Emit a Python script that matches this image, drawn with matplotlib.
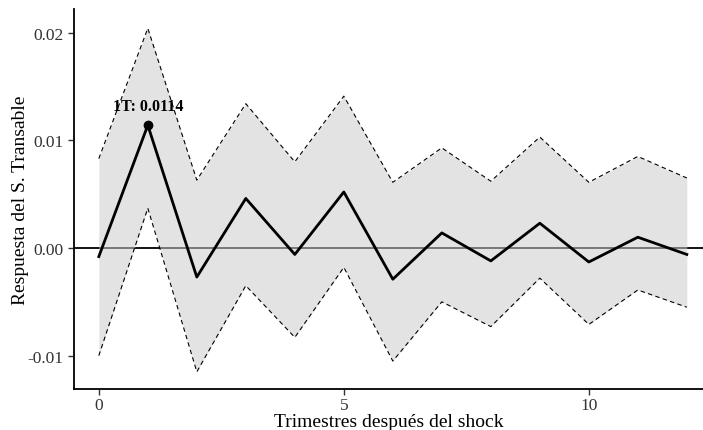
import numpy as np
import matplotlib.pyplot as plt

plt.rcParams['font.family'] = ['Liberation Serif', 'DejaVu Serif']

# 数据：脉冲响应及置信区间
trimestres = [0, 1, 2, 3, 4, 5, 6, 7, 8, 9, 10, 11, 12]
respuesta = [-0.0008, 0.0114, -0.0027, 0.0046, -0.0006, 0.0052, -0.0029,
             0.0014, -0.0012, 0.0023, -0.0013, 0.0010, -0.0006]
banda_sup = [0.0083, 0.0204, 0.0063, 0.0134, 0.0080, 0.0141, 0.0061,
             0.0093, 0.0062, 0.0103, 0.0061, 0.0085, 0.0065]
banda_inf = [-0.0100, 0.0037, -0.0115, -0.0035, -0.0083, -0.0018, -0.0105,
             -0.0050, -0.0073, -0.0028, -0.0071, -0.0039, -0.0055]
pico_x = 1
pico_y = 0.0114
etiqueta = '1T: 0.0114'

fig = plt.figure(figsize=(7.03, 4.31), dpi=100)
ax = fig.add_axes([0.105, 0.095, 0.895, 0.882])

ax.axhline(0, color='black', linewidth=1.3, zorder=1)
ax.fill_between(trimestres, banda_inf, banda_sup, color='#cccccc', alpha=0.55,
                linewidth=0, zorder=2)
ax.plot(trimestres, banda_sup, color='black', linestyle=(0, (4, 3)), linewidth=0.8, zorder=3)
ax.plot(trimestres, banda_inf, color='black', linestyle=(0, (4, 3)), linewidth=0.8, zorder=3)
ax.plot(trimestres, respuesta, color='black', linewidth=2, zorder=4)
ax.plot([pico_x], [pico_y], 'o', color='black', markersize=6, zorder=5)
ax.annotate(etiqueta, (pico_x, pico_y), xytext=(0, 8), textcoords='offset points',
            ha='center', va='bottom', fontsize=11.5, fontweight='bold')

ax.set_xlim(-0.51, 12.33)
ax.set_ylim(-0.0131, 0.0222)
ax.set_xticks([0, 5, 10])
ax.set_yticks([-0.01, 0.0, 0.01, 0.02])
ax.set_yticklabels(['-0.01', '0.00', '0.01', '0.02'])
ax.tick_params(axis='both', colors='#333333', labelsize=12.5, length=4, width=1)
ax.tick_params(axis='x', pad=2)

for s in ['top', 'right']:
    ax.spines[s].set_visible(False)
for s in ['left', 'bottom']:
    ax.spines[s].set_linewidth(1.3)

ax.set_ylabel('Respuesta del S. Transable', fontsize=14, labelpad=-1)
ax.set_xlabel('Trimestres después del shock', fontsize=14, labelpad=0)

fig.savefig('out.png', dpi=100)
